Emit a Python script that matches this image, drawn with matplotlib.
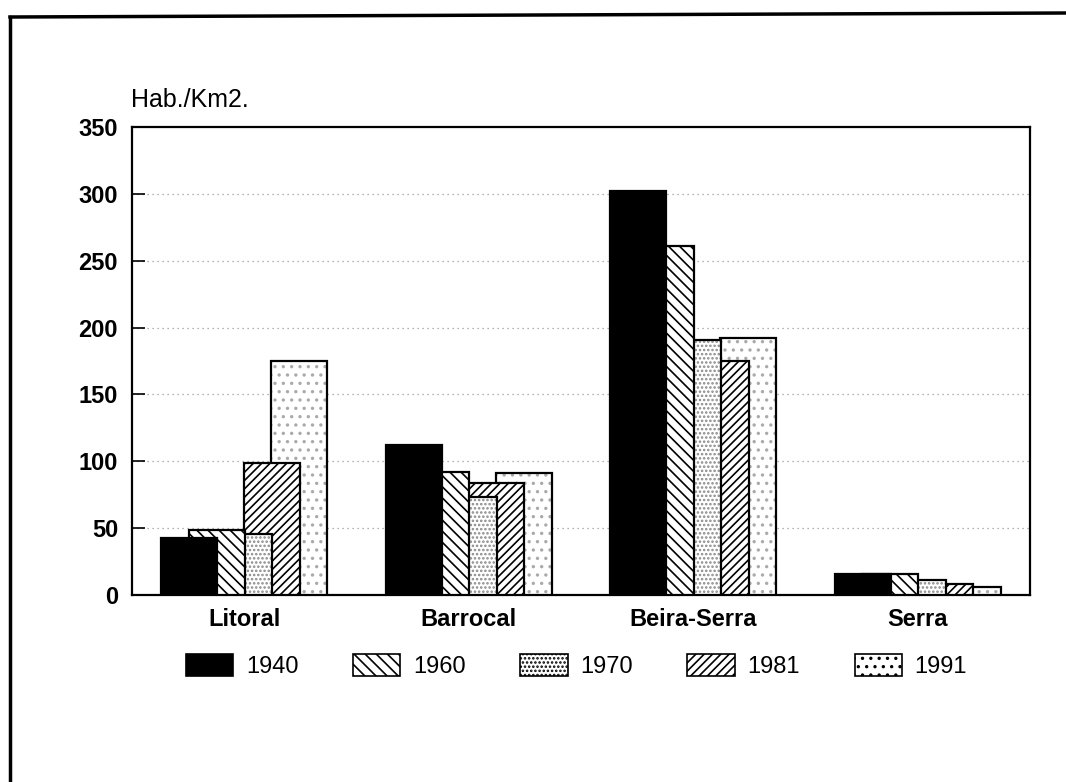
import numpy as np
import matplotlib
matplotlib.use("Agg")
import matplotlib.pyplot as plt
import matplotlib.patches as mpatches
from matplotlib.lines import Line2D

# ---------------------------------------------------------
# DATA (Hab./Km2.)
# ---------------------------------------------------------

regions = ["Litoral", "Barrocal", "Beira-Serra", "Serra"]
years = ["1940", "1960", "1970", "1981", "1991"]

d1940 = [43, 112, 302, 16]
d1960 = [49, 92, 261, 16]
d1970 = [46, 73, 191, 11]
d1981 = [99, 84, 175, 8]
d1991 = [175, 91, 192, 6]

y_ticks = [0, 50, 100, 150, 200, 250, 300, 350]

series = [d1940, d1960, d1970, d1981, d1991]

# fill / hatch style for each year
styles = [
    dict(face="black", hatch=None, hcolor="black"),
    dict(face="white", hatch="\\\\\\", hcolor="black"),
    dict(face="white", hatch="....", hcolor="#888888"),
    dict(face="white", hatch="////", hcolor="black"),
    dict(face="white", hatch="..", hcolor="#aaaaaa"),
]

plt.rcParams["font.family"] = ["Liberation Sans", "DejaVu Sans"]
plt.rcParams["hatch.linewidth"] = 1.2

fig = plt.figure(figsize=(10.66, 7.82), dpi=100)
ax = fig.add_axes([0.1238, 0.2391, 0.8424, 0.5985])

x = np.arange(len(regions))
step = 0.1225
width = 0.25

# draw later years first so earlier years sit on top
for i in reversed(range(len(series))):
    st = styles[i]
    off = (i - 2) * step
    z = 10 - i
    ax.bar(x + off, series[i], width, color=st["face"],
           hatch=st["hatch"], edgecolor=st["hcolor"], linewidth=0, zorder=z)
    ax.bar(x + off, series[i], width, fill=False,
           edgecolor="black", linewidth=1.6, zorder=z + 0.01)

# dotted grid
for v in y_ticks[1:-1]:
    ax.axhline(v, color="#999999", linestyle=(0, (1, 3)), linewidth=0.9, zorder=0)

ax.set_xlim(-0.5, 3.5)
ax.set_ylim(0, 350)
ax.set_yticks(y_ticks)
ax.set_xticks(x)
ax.set_xticklabels(regions, fontsize=17, fontweight="bold")
ax.tick_params(axis="y", direction="in", length=9, width=1.2,
               labelsize=17, pad=10)
ax.tick_params(axis="x", length=0, pad=9)
for lab in ax.get_yticklabels():
    lab.set_fontweight("bold")
for sp in ax.spines.values():
    sp.set_linewidth(1.6)

fig.text(0.123, 0.872, "Hab./Km2.", fontsize=18, va="center", ha="left")

# legend
handles = []
for i in range(len(years)):
    st = styles[i]
    handles.append(mpatches.Patch(facecolor=st["face"], hatch=st["hatch"],
                                  edgecolor="black", linewidth=1.2,
                                  label=years[i]))
fig.legend(handles=handles, loc="center", bbox_to_anchor=(0.541, 0.148),
           ncol=5, frameon=False, fontsize=17, handlelength=2.0,
           handleheight=1.05, columnspacing=2.3, handletextpad=0.55)

# outer frame (only left and top edges are visible)
fig.add_artist(Line2D([10 / 1066, 10 / 1066], [0, 1 - 17 / 782],
                      transform=fig.transFigure, color="black", linewidth=2.5))
fig.add_artist(Line2D([10 / 1066, 1], [1 - 17 / 782, 1 - 13 / 782],
                      transform=fig.transFigure, color="black", linewidth=2.5))

plt.savefig("out.png", dpi=100)
